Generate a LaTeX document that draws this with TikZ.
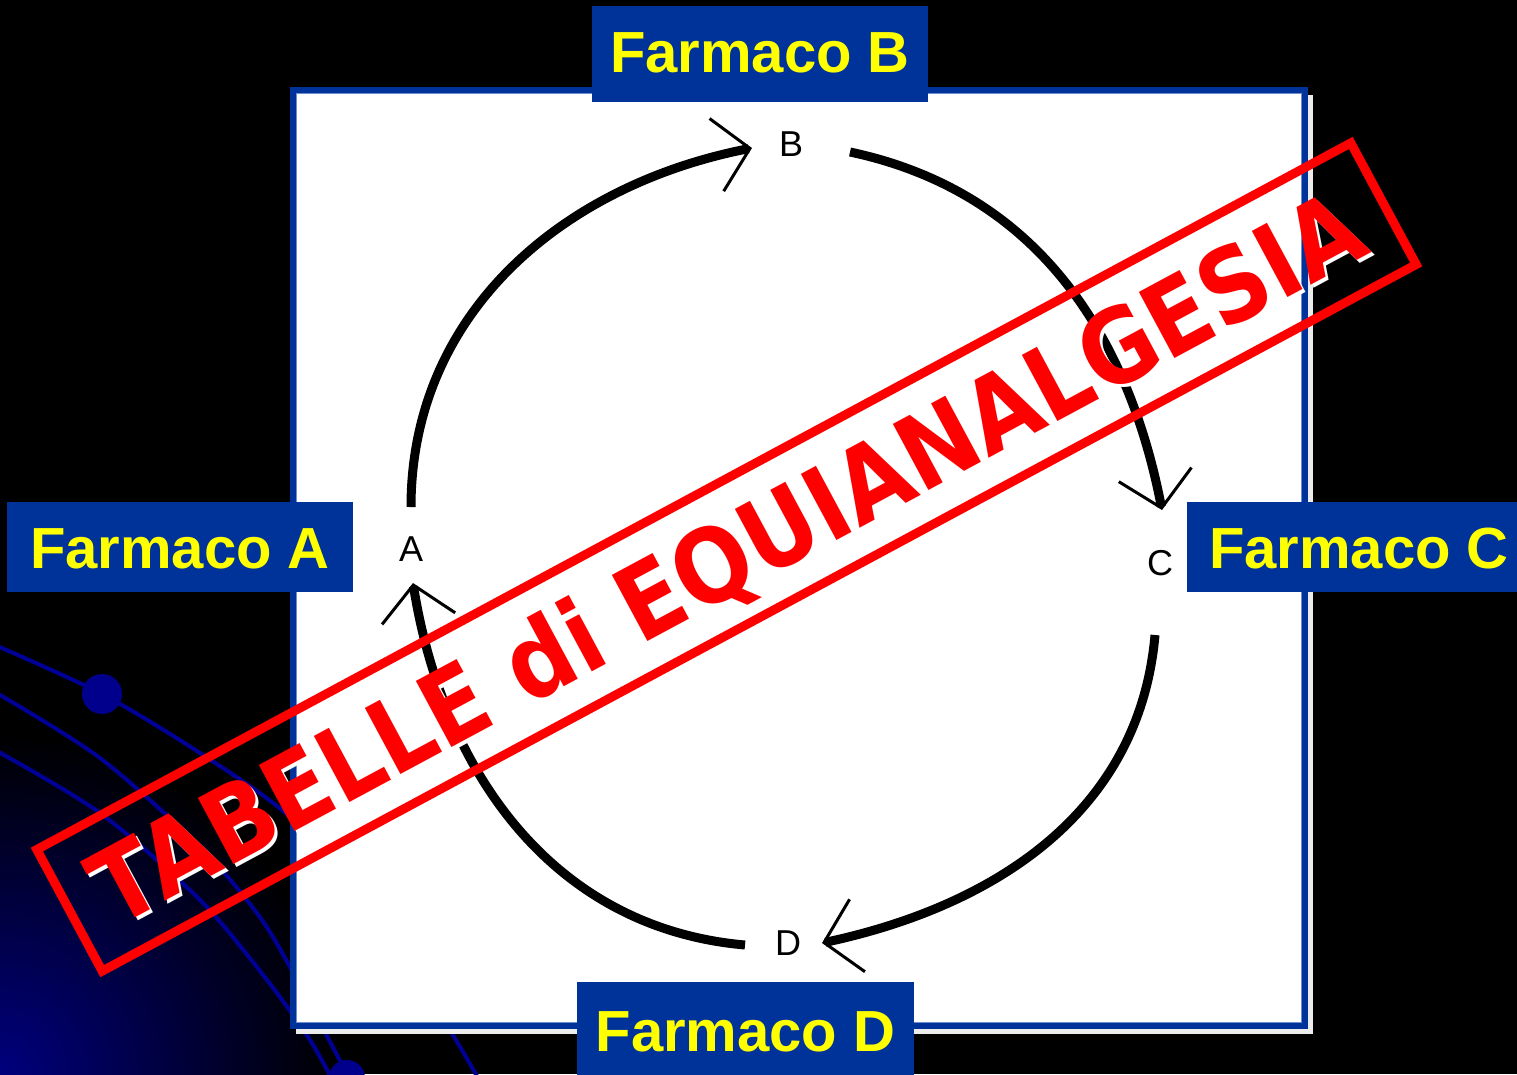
\documentclass[tikz,border=0pt]{standalone}
\usepackage{fontspec}
\setmainfont{Liberation Sans}
\newfontfamily\stampfont{DejaVu Sans}
\usetikzlibrary{arrows.meta}
\definecolor{pptblue}{RGB}{0,51,153}
\definecolor{deco}{RGB}{0,0,150}
\definecolor{dotblue}{RGB}{0,0,140}
\definecolor{stampred}{RGB}{255,0,0}
\definecolor{farmyellow}{RGB}{255,255,0}
\definecolor{innerline}{RGB}{110,140,210}
\definecolor{shadowgray}{RGB}{236,236,236}
\begin{document}
\begin{tikzpicture}[x=1pt,y=1pt,
  farmaco/.style={fill=pptblue, text=farmyellow, font=\fontsize{58}{58}\selectfont\bfseries, inner sep=0pt, text height=42pt, text depth=0pt},
  letter/.style={font=\fontsize{36}{36}\selectfont, inner sep=0pt, text height=26pt, text depth=0pt},
  cyc/.style={line width=9pt, -{Straight Barb[length=34pt,width=74pt,line width'=3pt]}},
  decoline/.style={draw=deco, line width=4pt},
  stamptxt/.style={rotate=28.27, inner sep=0pt, text height=75pt, text depth=0pt, font=\stampfont\bfseries\fontsize{103}{103}\selectfont}
]
\fill[black] (0,0) rectangle (1517,-1074);
\useasboundingbox (0,0) rectangle (1517,-1074);
\begin{scope}
\clip (0,0) rectangle (1517,-1074);
\shade[inner color={rgb,255:red,0;green,0;blue,125}, outer color=black] (0,-1074) circle (340);
\draw[decoline] plot[smooth] coordinates {(-5,-645) (102,-694) (200,-753) (290,-817) (380,-915) (453,-1035) (482,-1085)};
\draw[decoline] plot[smooth] coordinates {(-5,-692) (100,-758) (200,-847) (262,-920) (305,-995) (347,-1074)};
\draw[decoline] plot[smooth] coordinates {(-5,-750) (100,-813) (200,-900) (267,-980) (310,-1040) (335,-1085)};
\fill[dotblue] (102,-694) circle (20);
\fill[dotblue] (347,-1078) circle (18);
\end{scope}
% diagram box
\fill[shadowgray] (296,-95) rectangle (1313,-1034);
\fill[white] (292.5,-90) rectangle (1304.5,-1026);
\draw[pptblue, line width=6pt] (292.5,-90) rectangle (1304.5,-1026);
\draw[innerline, line width=1pt] (296,-93.5) rectangle (1301,-1022.5);
% cycle letters
\node[letter] (A) at (411,-548) {A};
\node[letter] (B) at (791,-143) {B};
\node[letter] (C) at (1160,-562) {C};
\node[letter] (D) at (788,-942) {D};
% cycle arcs
\draw[cyc] ([shift={(0,41)}]A.center) to[out=90,in=191] ([shift={(-39,-5)}]B.center);
\draw[cyc] ([shift={(59,-9)}]B.center) to[out=-12,in=101] ([shift={(2,52)}]C.center);
\draw[cyc] ([shift={(-5,-73)}]C.center) to[out=265,in=12] ([shift={(34,-1)}]D.center);
\draw[cyc] ([shift={(-43,-3)}]D.center) to[out=175,in=-81] ([shift={(2,-35)}]A.center);
% labels
\node[farmaco, text depth=6pt, minimum width=336pt, minimum height=96pt] (fB) at (760,-54) {Farmaco B};
\node[farmaco, minimum width=346pt, minimum height=90pt] (fA) at (180,-547) {Farmaco A};
\node[farmaco, minimum width=344pt, minimum height=90pt] (fC) at (1359,-547) {Farmaco C};
\node[farmaco, minimum width=337pt, minimum height=96pt] (fD) at (745.5,-1030) {Farmaco D};
% stamp
\node[draw=stampred, line width=9pt, rotate=28.27, minimum width=1492pt, minimum height=138pt, inner sep=0pt] (stamp) at (726.5,-557) {};
\node[stamptxt, text=white] (stampshadow) at (729.5,-560) {\scalebox{0.886}[1]{TABELLE di EQUIANALGESIA}};
\node[stamptxt, text=stampred] (stamptext) at (726.5,-557) {\scalebox{0.886}[1]{TABELLE di EQUIANALGESIA}};
\end{tikzpicture}
\end{document}
